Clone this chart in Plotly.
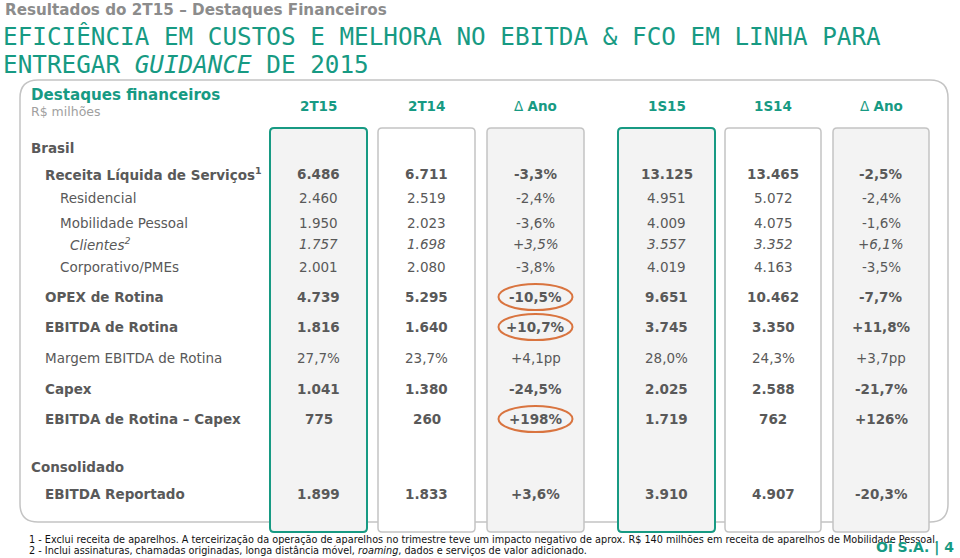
import plotly.graph_objects as go

# ---------------- data ----------------
col_headers = ["2T15", "2T14", "Δ Ano", "1S15", "1S14", "Δ Ano"]

row_labels = [
    "Receita Líquida de Serviços<sup>1</sup>",
    "Residencial",
    "Mobilidade Pessoal",
    "<i>Clientes<sup>2</sup></i>",
    "Corporativo/PMEs",
    "OPEX de Rotina",
    "EBITDA de Rotina",
    "Margem EBITDA de Rotina",
    "Capex",
    "EBITDA de Rotina – Capex",
    "EBITDA Reportado",
]
row_style = ["b", "n", "n", "i", "n", "b", "b", "n", "b", "b", "b"]

v_2T15 = ["6.486", "2.460", "1.950", "1.757", "2.001", "4.739", "1.816", "27,7%", "1.041", "775", "1.899"]
v_2T14 = ["6.711", "2.519", "2.023", "1.698", "2.080", "5.295", "1.640", "23,7%", "1.380", "260", "1.833"]
v_dAno1 = ["-3,3%", "-2,4%", "-3,6%", "+3,5%", "-3,8%", "-10,5%", "+10,7%", "+4,1pp", "-24,5%", "+198%", "+3,6%"]
v_1S15 = ["13.125", "4.951", "4.009", "3.557", "4.019", "9.651", "3.745", "28,0%", "2.025", "1.719", "3.910"]
v_1S14 = ["13.465", "5.072", "4.075", "3.352", "4.163", "10.462", "3.350", "24,3%", "2.588", "762", "4.907"]
v_dAno2 = ["-2,5%", "-2,4%", "-1,6%", "+6,1%", "-3,5%", "-7,7%", "+11,8%", "+3,7pp", "-21,7%", "+126%", "-20,3%"]
columns = [v_2T15, v_2T14, v_dAno1, v_1S15, v_1S14, v_dAno2]
highlighted = ["-10,5%", "+10,7%", "+198%"]

footnotes = [
    "1 - Exclui receita de aparelhos. A terceirização da operação de aparelhos no trimestre teve um impacto negativo de aprox. R$ 140 milhões em receita de aparelhos de Mobilidade Pessoal.",
    "2 - Inclui assinaturas, chamadas originadas, longa distância móvel, <i>roaming</i>, dados e serviços de valor adicionado.",
]

# ---------------- layout constants ----------------
W, H = 960, 558
TEAL = "#179a83"
GRAY = "#595959"
BORDER = "#c4c4c4"
FONT = "DejaVu Sans"

row_y = [174, 198, 223, 244, 267, 297, 327, 358, 389, 419, 494]
row_x = [43, 58, 58, 68, 58, 43, 43, 43, 43, 43, 43]
box_x = [(270, 367), (378, 475), (487, 584), (618, 715), (725, 821), (833, 929)]
box_fill = ["#f3f3f3", "#ffffff", "#f3f3f3", "#f3f3f3", "#ffffff", "#f3f3f3"]
box_line = [TEAL, BORDER, BORDER, TEAL, BORDER, BORDER]
box_top, box_bot = 128, 532


def rrect(x0, y0, x1, y1, r):
    return (f"M {x0+r},{y0} L {x1-r},{y0} Q {x1},{y0} {x1},{y0+r} "
            f"L {x1},{y1-r} Q {x1},{y1} {x1-r},{y1} L {x0+r},{y1} "
            f"Q {x0},{y1} {x0},{y1-r} L {x0},{y0+r} Q {x0},{y0} {x0+r},{y0} Z")


fig = go.Figure()
fig.add_trace(go.Scatter(x=[0, W], y=[0, H], mode="markers",
                         marker=dict(opacity=0), hoverinfo="skip", showlegend=False))

shapes = []
# main panel
shapes.append(dict(type="path", path=rrect(20, 80, 948, 522, 18), xref="x", yref="y",
                   line=dict(color=BORDER, width=1.5), fillcolor="rgba(0,0,0,0)", layer="below"))
# column boxes
for (x0, x1), fc, lc in zip(box_x, box_fill, box_line):
    shapes.append(dict(type="path", path=rrect(x0, box_top, x1, box_bot, 4), xref="x", yref="y",
                       line=dict(color=lc, width=2 if lc == TEAL else 1.5), fillcolor=fc, layer="below"))

ann = []
# titles
ann.append(dict(x=3, y=10, text="<b>Resultados do 2T15 – Destaques Financeiros</b>", showarrow=False,
                xanchor="left", yanchor="middle", font=dict(family=FONT, size=15.2, color="#8c8c8c")))
ann.append(dict(x=1, y=36, text="EFICIÊNCIA EM CUSTOS E MELHORA NO EBITDA &amp; FCO EM LINHA PARA",
                showarrow=False, xanchor="left", yanchor="middle",
                font=dict(family="DejaVu Sans Mono", size=24.3, color=TEAL)))
ann.append(dict(x=1, y=64, text="ENTREGAR <i>GUIDANCE</i> DE 2015",
                showarrow=False, xanchor="left", yanchor="middle",
                font=dict(family="DejaVu Sans Mono", size=24.3, color=TEAL)))
ann.append(dict(x=29, y=95, text="<b>Destaques financeiros</b>", showarrow=False, xanchor="left",
                yanchor="middle", font=dict(family=FONT, size=15.1, color=TEAL)))
ann.append(dict(x=29, y=111, text="R$ milhões", showarrow=False, xanchor="left",
                yanchor="middle", font=dict(family=FONT, size=12.5, color="#a0a0a0")))
ann.append(dict(x=29, y=148, text="<b>Brasil</b>", showarrow=False, xanchor="left",
                yanchor="middle", font=dict(family=FONT, size=13.5, color=GRAY)))
ann.append(dict(x=29, y=467, text="<b>Consolidado</b>", showarrow=False, xanchor="left",
                yanchor="middle", font=dict(family=FONT, size=13.5, color=GRAY)))

# column headers
for (x0, x1), h in zip(box_x, col_headers):
    if h.startswith("Δ"):
        txt = "Δ <b>Ano</b>"
    else:
        txt = f"<b>{h}</b>"
    ann.append(dict(x=(x0 + x1) / 2, y=106, text=txt, showarrow=False, xanchor="center",
                    yanchor="middle", font=dict(family=FONT, size=13.5, color=TEAL)))


def styled(t, s):
    if s == "b":
        return f"<b>{t}</b>"
    if s == "i":
        return f"<i>{t}</i>"
    return t


# row labels
for lab, s, x, y in zip(row_labels, row_style, row_x, row_y):
    ann.append(dict(x=x, y=y, text=styled(lab, "b" if s == "b" else "n"), showarrow=False,
                    xanchor="left", yanchor="middle", font=dict(family=FONT, size=13.5, color=GRAY)))

# values
for (x0, x1), vals in zip(box_x, columns):
    xc = (x0 + x1) / 2
    for v, s, y in zip(vals, row_style, row_y):
        ann.append(dict(x=xc, y=y, text=styled(v, s), showarrow=False, xanchor="center",
                        yanchor="middle", font=dict(family=FONT, size=13.5, color=GRAY)))

# highlight ellipses
xc_d = (box_x[2][0] + box_x[2][1]) / 2
for v, y in zip(v_dAno1, row_y):
    if v in highlighted:
        shapes.append(dict(type="circle", xref="x", yref="y", x0=xc_d - 37, x1=xc_d + 37,
                           y0=y - 13, y1=y + 13, line=dict(color="#d9743f", width=2), layer="above"))

# footnotes
for i, fn in enumerate(footnotes):
    ann.append(dict(x=27, y=539 + 11 * i, text=fn, showarrow=False, xanchor="left", yanchor="middle",
                    font=dict(family=FONT, size=9.7, color="#111111")))
ann.append(dict(x=956, y=547, text="<b>Oi S.A. | 4</b>", showarrow=False, xanchor="right",
                yanchor="middle", font=dict(family=FONT, size=14, color=TEAL)))

fig.update_layout(
    width=W, height=H, margin=dict(l=0, r=0, t=0, b=0),
    paper_bgcolor="white", plot_bgcolor="white",
    xaxis=dict(range=[0, W], visible=False, fixedrange=True),
    yaxis=dict(range=[H, 0], visible=False, fixedrange=True),
    shapes=shapes, annotations=ann, showlegend=False,
)
fig.write_html("out.html", config={"displayModeBar": False},
               post_script="document.body.style.margin='0';document.body.style.overflow='hidden';")
